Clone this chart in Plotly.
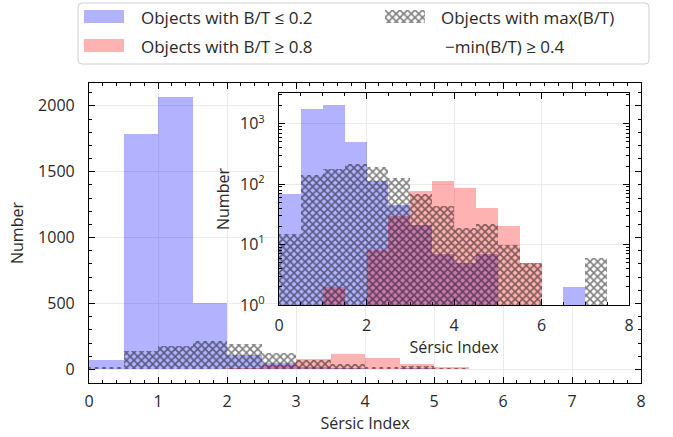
import plotly.graph_objects as go

# Histogram bins (left edges, width 0.5) in Sérsic index
bin_left = [0.0, 0.5, 1.0, 1.5, 2.0, 2.5, 3.0, 3.5, 4.0, 4.5, 5.0, 5.5, 6.0, 6.5, 7.0, 7.5]
bin_width = 0.5

# Counts per bin
n_low_bt = [70, 1790, 2070, 505, 112, 46, 21, 7, 5, 7, 0, 0, 0, 2, 0, 0]      # B/T <= 0.2
n_high_bt = [0, 0, 2, 0, 8, 30, 77, 113, 85, 40, 20, 5, 0, 0, 0, 0]            # B/T >= 0.8
n_var_bt = [15, 141, 178, 212, 190, 127, 68, 43, 19, 22, 10, 5, 0, 0, 6, 0]    # max-min >= 0.4

label_low = "Objects with B/T ≤ 0.2"
label_high = "Objects with B/T ≥ 0.8"
label_var_1 = "Objects with max(B/T)"
label_var_2 = "−min(B/T) ≥ 0.4"

W, H = 673, 437
FONT = "Open Sans"
TXT = "#2a2a2a"
BLUE = "rgba(0,0,255,0.3)"
RED = "rgba(255,0,0,0.3)"


def fx(px):
    return px / W


def fy(py):
    return 1 - py / H


HATCH = dict(shape="x", size=5.3, solidity=0.5, fgcolor="black",
             bgcolor="rgba(0,0,0,0)", fillmode="overlay")


def bars(vals, xa, ya, color=None, hatch=False, log=False):
    y = [v if (v > 0 or not log) else None for v in vals]
    if hatch:
        marker = dict(color="rgba(0,0,0,0)", line=dict(width=0), pattern=HATCH)
    else:
        marker = dict(color=color, line=dict(width=0))
    return go.Bar(x=bin_left, y=y, width=bin_width, offset=0, marker=marker,
                  xaxis=xa, yaxis=ya, showlegend=False, hoverinfo="skip")


fig = go.Figure()
# main linear panel
fig.add_trace(bars(n_low_bt, "x", "y", BLUE))
fig.add_trace(bars(n_high_bt, "x", "y", RED))
fig.add_trace(bars(n_var_bt, "x", "y", hatch=True))
# log-scale inset
fig.add_trace(bars(n_low_bt, "x2", "y2", BLUE, log=True))
fig.add_trace(bars(n_high_bt, "x2", "y2", RED, log=True))
fig.add_trace(bars(n_var_bt, "x2", "y2", hatch=True, log=True))
# hatch swatch for the legend key
fig.add_trace(go.Bar(x=[0], y=[1], width=[1], marker=dict(color="rgba(0,0,0,0)", line=dict(width=0), pattern=HATCH),
                     xaxis="x3", yaxis="y3", showlegend=False, hoverinfo="skip"))

tick_font = dict(family=FONT, size=16, color=TXT)
title_font = dict(family=FONT, size=16, color=TXT)
frame = dict(showline=True, linecolor="black", linewidth=1.2, mirror="allticks",
             ticks="inside", tickcolor="black", ticklen=6, tickwidth=1,
             showgrid=True, gridcolor="#ebebeb", gridwidth=1, zeroline=False,
             tickfont=tick_font, automargin=False)
minor = dict(ticks="inside", ticklen=3, tickcolor="black", tickwidth=1, showgrid=False)

fig.update_layout(
    width=W, height=H,
    margin=dict(l=0, r=0, t=0, b=0),
    paper_bgcolor="white", plot_bgcolor="white",
    barmode="overlay", bargap=0,
    font=dict(family=FONT, color=TXT),
    xaxis=dict(frame, domain=[fx(89), fx(641)], anchor="y", range=[0, 8], tick0=0, dtick=1,
               minor=dict(minor, dtick=0.2), ticklabelstandoff=4,
               title=dict(text="Sérsic Index", font=title_font, standoff=0)),
    yaxis=dict(frame, domain=[fy(383), fy(83)], anchor="x", range=[-103.5, 2173.5], tick0=0, dtick=500,
               minor=dict(minor, dtick=100), ticklabelstandoff=10,
               title=dict(text="Number", font=title_font, standoff=10)),
    xaxis2=dict(frame, domain=[fx(279), fx(629)], anchor="y2", range=[0, 8], tick0=0, dtick=2,
                minor=dict(minor, dtick=0.5), ticklabelstandoff=6,
                title=dict(text="Sérsic Index", font=title_font, standoff=0)),
    yaxis2=dict(frame, domain=[fy(305), fy(93)], anchor="x2", type="log", range=[0, 3.51],
                tickvals=[1, 10, 100, 1000],
                ticktext=["10<sup>0</sup>", "10<sup>1</sup>", "10<sup>2</sup>", "10<sup>3</sup>"],
                minor=dict(minor, dtick="D1"), ticklabelstandoff=10,
                title=dict(text="Number", font=title_font, standoff=6)),
    xaxis3=dict(domain=[fx(385), fx(425)], anchor="y3", range=[-0.5, 0.5], visible=False, fixedrange=True),
    yaxis3=dict(domain=[fy(23), fy(10)], anchor="x3", range=[0, 1], visible=False, fixedrange=True),
)


# legend frame with rounded corners
def rounded_rect(x0, y0, x1, y1, r):
    X0, X1 = fx(x0), fx(x1)
    Y0, Y1 = fy(y0), fy(y1)
    rx, ry = r / W, r / H
    return (f"M{X0 + rx},{Y0} L{X1 - rx},{Y0} Q{X1},{Y0} {X1},{Y0 - ry} "
            f"L{X1},{Y1 + ry} Q{X1},{Y1} {X1 - rx},{Y1} L{X0 + rx},{Y1} "
            f"Q{X0},{Y1} {X0},{Y1 + ry} L{X0},{Y0 - ry} Q{X0},{Y0} {X0 + rx},{Y0} Z")


fig.add_shape(type="path", xref="paper", yref="paper", path=rounded_rect(78, 3, 649, 64, 4),
              line=dict(color="#d0d0d0", width=1), fillcolor="white", layer="below")
fig.add_shape(type="rect", xref="paper", yref="paper", x0=fx(84), x1=fx(124), y0=fy(23), y1=fy(10),
              line=dict(width=0), fillcolor=BLUE)
fig.add_shape(type="rect", xref="paper", yref="paper", x0=fx(84), x1=fx(124), y0=fy(52), y1=fy(39),
              line=dict(width=0), fillcolor=RED)

leg_font = dict(family=FONT, size=17, color=TXT)
for text, px, py in [(label_low, 140, 18), (label_high, 140, 46), (label_var_1, 440, 18), (label_var_2, 444, 46)]:
    fig.add_annotation(text=text, x=fx(px), y=fy(py), xref="paper", yref="paper",
                       xanchor="left", yanchor="middle", showarrow=False, font=leg_font, borderpad=0)

fig.write_html("out.html")
